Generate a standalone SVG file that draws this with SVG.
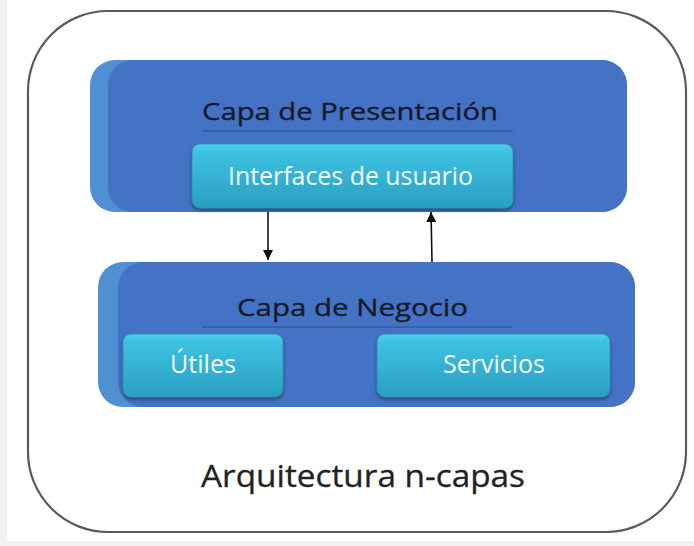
<svg xmlns="http://www.w3.org/2000/svg" width="694" height="546" viewBox="0 0 694 546">
  <defs>
    <linearGradient id="cyan" x1="0" y1="0" x2="0" y2="1">
      <stop offset="0" stop-color="#4cd0ec"/>
      <stop offset="0.12" stop-color="#3ec1e2"/>
      <stop offset="1" stop-color="#2a9fc1"/>
    </linearGradient>
    <filter id="shadow" x="-10%" y="-10%" width="120%" height="140%">
      <feDropShadow dx="0" dy="2" stdDeviation="1.5" flood-color="#102040" flood-opacity="0.55"/>
    </filter>
    <marker id="arrow" viewBox="0 0 10 10" refX="10" refY="5" markerWidth="10" markerHeight="10" markerUnits="userSpaceOnUse" orient="auto">
      <path d="M0,0 L10,5 L0,10 Z" fill="#111"/>
    </marker>
    <style>
      .back { fill: #4f8fd2; }
      .front { fill: #4472c4; }
      .title { font-family: "Open Sans", "Noto Sans", sans-serif; font-size: 24px; fill: #151a2a; stroke: #151a2a; stroke-width: 0.35; }
      .rule { stroke: #2c4f8e; stroke-width: 1.2; }
      .item { fill: url(#cyan); stroke: #2a8fb0; stroke-width: 0.8; filter: url(#shadow); }
      .itext { font-family: "Open Sans", "Noto Sans", sans-serif; font-size: 25px; fill: #f4fbff; }
      .conn { stroke: #111; stroke-width: 1.6; fill: none; marker-end: url(#arrow); }
    </style>
  </defs>
  <rect x="0" y="0" width="694" height="546" fill="#f2f2f2"/>
  <rect x="7" y="0" width="687" height="541" fill="#ffffff"/>

  <g id="frame">
    <rect x="28" y="11" width="658" height="521" rx="80" ry="80" fill="#ffffff" stroke="#5a5a5a" stroke-width="2.2"/>
    <text x="201" y="487" font-family="'Open Sans', 'Noto Sans', sans-serif" font-size="31" fill="#222" stroke="#222" stroke-width="0.3" textLength="324" lengthAdjust="spacingAndGlyphs">Arquitectura n-capas</text>
  </g>

  <g id="capa-presentacion">
    <rect class="back" x="90" y="60" width="537" height="152" rx="25"/>
    <rect class="front" x="108" y="60" width="519" height="152" rx="25"/>
    <text class="title" x="202" y="120" textLength="296" lengthAdjust="spacingAndGlyphs">Capa de Presentación</text>
    <line class="rule" x1="202" y1="131" x2="513" y2="131"/>
  </g>

  <g id="interfaces-usuario">
    <rect class="item" x="192" y="144" width="321" height="64" rx="8"/>
    <text class="itext" x="228" y="185" textLength="245" lengthAdjust="spacingAndGlyphs">Interfaces de usuario</text>
  </g>

  <g id="capa-negocio">
    <rect class="back" x="98" y="262" width="537" height="145" rx="25"/>
    <rect class="front" x="118" y="262" width="517" height="145" rx="25"/>
    <text class="title" x="237" y="316" textLength="231" lengthAdjust="spacingAndGlyphs">Capa de Negocio</text>
    <line class="rule" x1="202" y1="327" x2="512" y2="327"/>
  </g>

  <g id="utiles">
    <rect class="item" x="123" y="334" width="160" height="63" rx="8"/>
    <text class="itext" x="170" y="373" textLength="66" lengthAdjust="spacingAndGlyphs">Útiles</text>
  </g>

  <g id="servicios">
    <rect class="item" x="377" y="334" width="233" height="63" rx="8"/>
    <text class="itext" x="443" y="373" textLength="102" lengthAdjust="spacingAndGlyphs">Servicios</text>
  </g>

  <g id="connectors">
    <line class="conn" x1="268" y1="212" x2="268" y2="260"/>
    <line class="conn" x1="432" y1="262" x2="431" y2="212"/>
  </g>
</svg>
